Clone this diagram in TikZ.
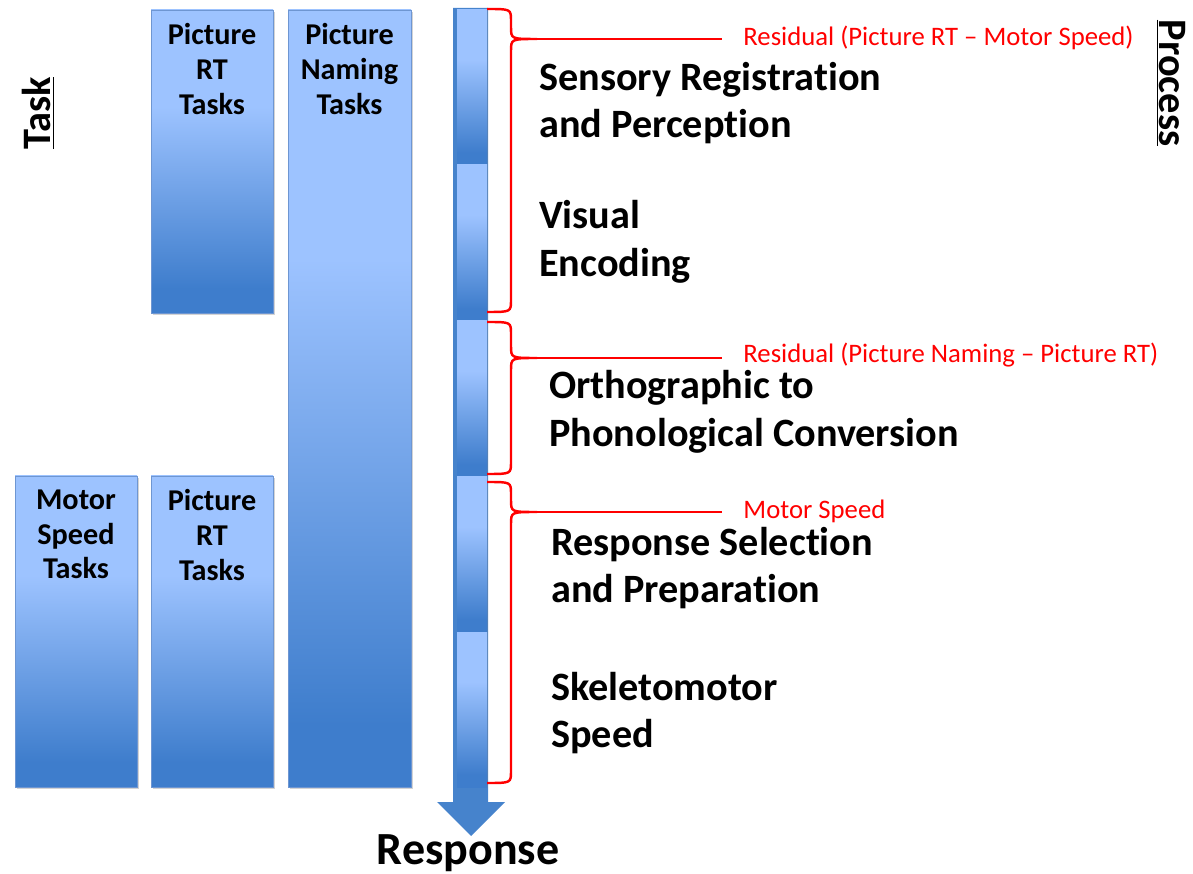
\documentclass[tikz,border=0pt]{standalone}
\usepackage{fontspec}
\setmainfont{Carlito}[Ligatures=NoCommon]
\usepackage{tikz}
\usetikzlibrary{positioning,calc,fit,shadows}

\definecolor{boxlight}{RGB}{157,195,255}
\definecolor{boxdark}{RGB}{62,125,204}
\definecolor{boxline}{RGB}{110,150,210}
\definecolor{arrowblue}{RGB}{70,131,204}
\definecolor{bracered}{RGB}{255,0,0}

\pgfdeclareverticalshading{taskshade}{100bp}{color(0bp)=(boxdark); color(29bp)=(boxdark); color(59bp)=(boxlight); color(100bp)=(boxlight)}

\tikzset{
  taskbox/.style={draw=boxline,line width=0.5pt,shading=taskshade,inner sep=0pt,
    drop shadow={shadow xshift=1.2pt,shadow yshift=-1.2pt,opacity=0.35}},
  segbox/.style={draw=none,shading=taskshade,inner sep=0pt,
    drop shadow={shadow xshift=0.8pt,shadow yshift=-0.8pt,opacity=0.3}},
  boxtext/.style={align=center,font=\fontsize{17.2}{19.8}\selectfont\bfseries},
  proctext/.style={align=left,anchor=west,font=\fontsize{22.9}{27.2}\selectfont\bfseries},
  restext/.style={anchor=west,inner xsep=12pt,inner ysep=0pt,text=bracered,font=\fontsize{15.2}{17}\selectfont},
  bracestyle/.style={draw=bracered,line width=1.4pt},
  axistext/.style={font=\fontsize{23}{27}\selectfont\bfseries}
}

% red brace on the right of the column: top y, tip y, bottom y
\newcommand{\procbrace}[4]{%
  \draw[bracestyle] (487,#1) .. controls (511,#1) .. (511,#1+12) -- (511,#2-12)
    .. controls (511,#2) .. (537,#2) coordinate (#4)
    .. controls (511,#2) .. (511,#2+12) -- (511,#3-12) .. controls (511,#3) .. (487,#3);}

\begin{document}
\begin{tikzpicture}[x=0.02cm,y=-0.02cm]
	\useasboundingbox (0,0) rectangle (1193,874);
	% task columns
	\node[taskbox,fit={(151,10)(273,313)}] (prtA) {};
	\node[taskbox,fit={(288,10)(411,787)}] (naming) {};
	\node[taskbox,fit={(15,476)(137,787)}] (motor) {};
	\node[taskbox,fit={(151,476)(273,787)}] (prtB) {};
	\node[boxtext,below=4.5pt of prtA.north] (prtAtxt) {Picture\\RT\\Tasks};
	\node[boxtext,below=4.5pt of naming.north] (namingtxt) {Picture\\Naming\\Tasks};
	\node[boxtext,below=4.5pt of motor.north] (motortxt) {Motor\\Speed\\Tasks};
	\node[boxtext,below=4.5pt of prtB.north] (prtBtxt) {Picture\\RT\\Tasks};
	% big arrow behind the process column
	\fill[arrowblue] (453,8) -- (488,8) -- (488,802) -- (505,802) -- (471,836) -- (437,802) -- (453,802) -- cycle;
	\node[font=\fontsize{26.2}{31}\selectfont\bfseries] (resp) at (468,853) {Response};
	% process segments
	\foreach \i/\t/\b in {1/10/165,2/165/321,3/321/477,4/477/632,5/632/787}
		\node[segbox,fit={(457,\t)(487,\b)}] (seg\i) {};
	% braces
	\procbrace{9}{39}{312}{tipA}
	\procbrace{322}{358}{474}{tipB}
	\procbrace{482}{512}{783}{tipC}
	\node[restext] (resA) at (722,38) {Residual (Picture RT -- Motor Speed)};
	\node[restext] (resB) at (722,355) {Residual (Picture Naming -- Picture RT)};
	\node[restext] (resC) at (722,511) {Motor Speed};
	\draw[bracestyle] (tipA) -- (tipA -| resA.west);
	\draw[bracestyle] (tipB) -- (tipB -| resB.west);
	\draw[bracestyle] (tipC) -- (tipC -| resC.west);
	% process names
	\node[proctext] (sensory) at (533,103) {Sensory Registration\\and Perception};
	\node[proctext] (visual) at (533,242) {Visual\\Encoding};
	\node[proctext] (ortho) at (543,412) {Orthographic to\\Phonological Conversion};
	\node[proctext] (select) at (545,568) {Response Selection\\and Preparation};
	\node[proctext] (skeleto) at (545,713) {Skeletomotor\\Speed};
	% axis titles
	\node[axistext,rotate=90] (task) at (38,113) {\underline{Task}};
	\node[axistext,rotate=-90] (process) at (1171,83) {\underline{Process}};
\end{tikzpicture}
\end{document}
